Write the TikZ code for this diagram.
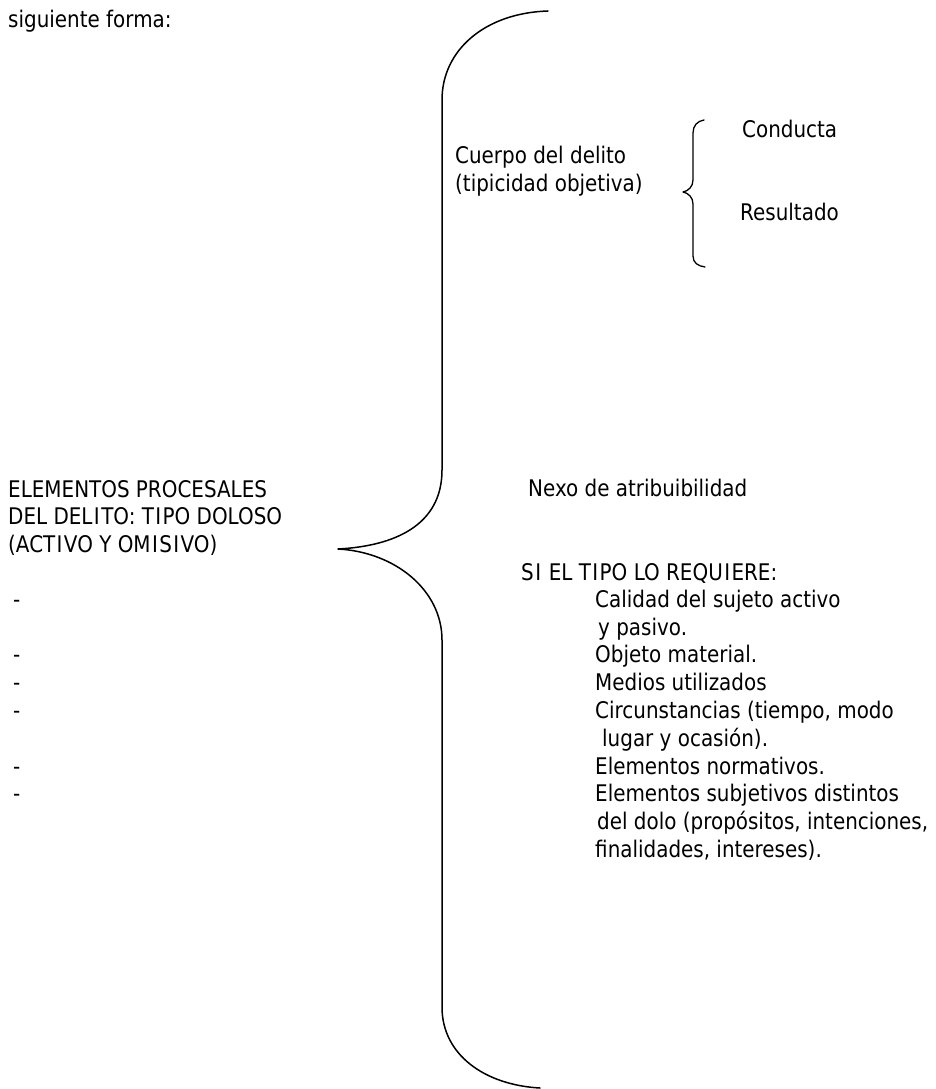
\documentclass[tikz,border=0pt]{standalone}
\usepackage{fontspec}
\setmainfont{DejaVu Sans}[FakeStretch=0.87]
\newcommand{\Iser}{\kern1.4pt I\kern1.4pt}
\begin{document}
\begin{tikzpicture}[x=1pt,y=-1pt,
  txt/.style={anchor=base west, inner sep=0pt, font=\fontsize{22.9}{27.8}\selectfont},
  bracepath/.style={line width=1.5pt, line join=round, line cap=round}]
\useasboundingbox (0,0) rectangle (936,1089);
% texts
\node[txt] (intro) at (8,28) {siguiente forma:};
\node[txt] (cuerpo1) at (455,164) {Cuerpo del delito};
\node[txt] (cuerpo2) at (455,191) {(tipicidad objetiva)};
\node[txt] (conducta) at (742,138) {Conducta};
\node[txt] (resultado) at (740,220) {Resultado};
\node[txt] (elem1) at (8,497) {ELEMENTOS PROCESALES};
\node[txt] (elem2) at (8,524.8) {DEL DEL\Iser TO: T\Iser PO DOLOSO};
\node[txt] (elem3) at (8,552.6) {(ACT\Iser VO Y OM\Iser S\Iser VO)};
\node[txt] (nexo) at (528,496) {Nexo de atribuibilidad};
\node[txt] (si) at (521,580) {S\Iser\ EL T\Iser PO LO REQU\Iser ERE:};
\node[txt] (r1) at (595,607.3) {Calidad del sujeto activo};
\node[txt] (r2) at (598,635.1) {y pasivo.};
\node[txt] (r3) at (595,662.9) {Objeto material.};
\node[txt] (r4) at (595,690.7) {Medios utilizados};
\node[txt] (r5) at (595,718.5) {Circunstancias (tiempo, modo};
\node[txt] (r6) at (602,746.3) {lugar y ocasión).};
\node[txt] (r7) at (595,774.1) {Elementos normativos.};
\node[txt] (r8) at (595,801.9) {Elementos subjetivos distintos};
\node[txt] (r9) at (597,829.7) {del dolo (propósitos, intenciones,};
\node[txt] (r10) at (595,857.5) {finalidades, intereses).};
% dashes
\node[txt] (d1) at (13,607.3) {-};
\node[txt] (d2) at (13,662.9) {-};
\node[txt] (d3) at (13,690.7) {-};
\node[txt] (d4) at (13,718.5) {-};
\node[txt] (d5) at (13,774.1) {-};
\node[txt] (d6) at (13,801.9) {-};
% big brace
\coordinate (bt) at (548,11);
\coordinate (b1) at (442,100);
\coordinate (b2) at (442,470);
\coordinate (tip) at (338,549);
\coordinate (b3) at (442,640);
\coordinate (b4) at (442,1007);
\coordinate (bb) at (540,1088);
\draw[bracepath] (bt) .. controls (485,13) and (442,50) .. (b1) -- (b2)
  .. controls (442,525) and (395,546) .. (tip)
  .. controls (395,552) and (442,590) .. (b3) -- (b4)
  .. controls (442,1055) and (485,1085) .. (bb);
% small brace
\coordinate (st) at (704,120);
\coordinate (s1) at (693,133);
\coordinate (s2) at (693,180);
\coordinate (stip) at (683,192);
\coordinate (s3) at (693,204);
\coordinate (s4) at (693,256);
\coordinate (sb) at (705,267);
\draw[bracepath, line width=1.3pt] (st) .. controls (697,121) and (693,126) .. (s1) -- (s2)
  .. controls (693,187) and (688,191) .. (stip)
  .. controls (688,193) and (693,197) .. (s3) -- (s4)
  .. controls (693,263) and (698,266) .. (sb);
\end{tikzpicture}
\end{document}
